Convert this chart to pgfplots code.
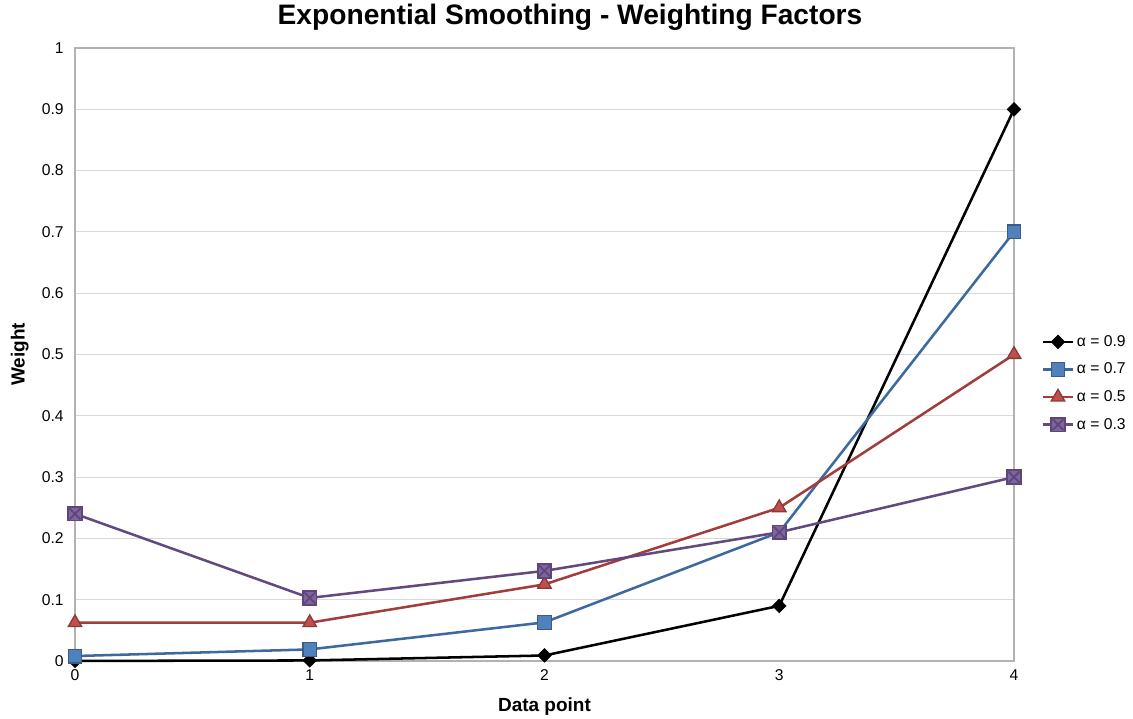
\documentclass[border=0pt]{standalone}
\usepackage{fontspec}
\setmainfont{Liberation Sans}
\usepackage{pgfplots}
\pgfplotsset{compat=1.18}
\definecolor{blueL}{HTML}{3D6A9E}
\definecolor{blueF}{HTML}{4F81BD}
\definecolor{blueD}{HTML}{385D8A}
\definecolor{redL}{HTML}{A13E3B}
\definecolor{redF}{HTML}{C0504D}
\definecolor{redD}{HTML}{8C3836}
\definecolor{purL}{HTML}{624A80}
\definecolor{purF}{HTML}{8064A2}
\definecolor{purD}{HTML}{5C4776}
\pgfdeclareplotmark{xsq}{%
  \pgfpathrectangle{\pgfpoint{-\pgfplotmarksize}{-\pgfplotmarksize}}{\pgfpoint{2\pgfplotmarksize}{2\pgfplotmarksize}}%
  \pgfusepathqfillstroke
  \pgfpathmoveto{\pgfpoint{-0.8\pgfplotmarksize}{-0.8\pgfplotmarksize}}%
  \pgfpathlineto{\pgfpoint{0.8\pgfplotmarksize}{0.8\pgfplotmarksize}}%
  \pgfpathmoveto{\pgfpoint{-0.8\pgfplotmarksize}{0.8\pgfplotmarksize}}%
  \pgfpathlineto{\pgfpoint{0.8\pgfplotmarksize}{-0.8\pgfplotmarksize}}%
  \pgfusepathqstroke}
\begin{document}
\begin{tikzpicture}
\useasboundingbox (0,0) rectangle (849.75bp,539.25bp);
\node[font=\fontsize{21.2}{25}\selectfont\bfseries] at (427.5bp,526.5bp) {Exponential Smoothing - Weighting Factors};
\begin{axis}[
  at={(56.25bp,43.5bp)}, anchor=south west,
  scale only axis, width=704.25bp, height=459.75bp,
  xmin=0, xmax=4, ymin=0, ymax=1,
  xtick={0,1,2,3,4}, ytick={0,0.1,...,1.0},
  yticklabels={0,0.1,0.2,0.3,0.4,0.5,0.6,0.7,0.8,0.9,1},
  /pgf/number format/assume math mode=true,
  ymajorgrids, grid style={draw=black!15, line width=0.75bp},
  axis line style={draw=black!30, line width=0.9bp},
  major tick length=0pt,
  tick label style={font=\fontsize{11.8}{14}\selectfont},
  xticklabel style={yshift=-3bp},
  yticklabel style={xshift=-5bp},
  xlabel={\bfseries Data point}, ylabel={\bfseries Weight},
  label style={font=\fontsize{14.3}{16}\selectfont},
  xlabel style={yshift=-6bp},
  ylabel style={yshift=3bp},
  clip=false,
  legend style={at={(1.025,0.453)}, anchor=west, draw=none, fill=none,
    font=\fontsize{11.8}{14}\selectfont, row sep=7bp, cells={anchor=west}},
  legend image code/.code={\draw[mark repeat=2,mark phase=2] plot coordinates {(0bp,0bp) (11.25bp,0bp) (22.5bp,0bp)};},
  every axis plot/.append style={line width=1.9bp},
]
\addplot[black, mark=square*, mark size=3.6bp, mark options={rotate=45, fill=black, line width=0.5bp}]
  coordinates {(0,0.0001) (1,0.0009) (2,0.009) (3,0.09) (4,0.9)};
\addlegendentry{α = 0.9}
\addplot[blueL, mark=square*, mark size=5.1bp, mark options={fill=blueF, draw=blueD, line width=1bp}]
  coordinates {(0,0.0081) (1,0.0189) (2,0.063) (3,0.21) (4,0.7)};
\addlegendentry{α = 0.7}
\addplot[redL, mark=triangle*, mark size=5.8bp, mark options={fill=redF, draw=redD, line width=1bp}]
  coordinates {(0,0.0625) (1,0.0625) (2,0.125) (3,0.25) (4,0.5)};
\addlegendentry{α = 0.5}
\addplot[purL, mark=xsq, mark size=5.1bp, mark options={fill=purF, draw=purD, line width=1.3bp}]
  coordinates {(0,0.2401) (1,0.1029) (2,0.147) (3,0.21) (4,0.3)};
\addlegendentry{α = 0.3}
\end{axis}
\end{tikzpicture}
\end{document}
